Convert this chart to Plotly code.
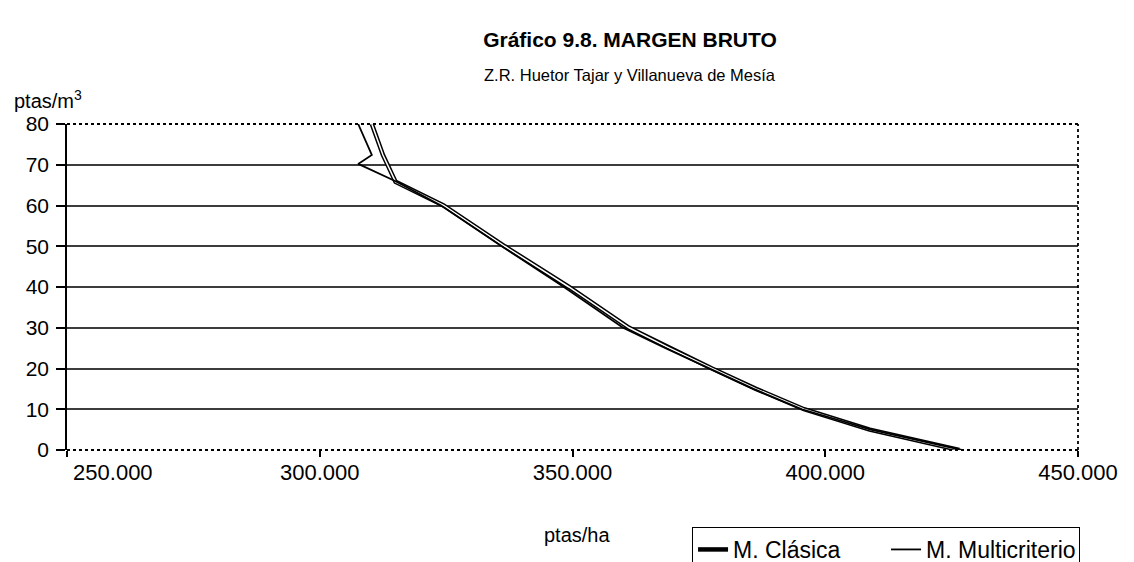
import plotly.graph_objects as go

# Data
clasica_x = [310300, 312500, 315000, 324500, 336600, 349300, 361200, 369200, 377600, 386300, 395800, 408800, 426500]
clasica_y = [80, 72.4, 65.8, 60, 50, 40, 30, 25, 20, 15, 10, 5, 0]

multi_x = [307600, 310300, 307600, 314900, 324000, 336000, 348300, 360000, 368400, 377000, 385800, 395400, 409000, 427000]
multi_y = [80, 72.4, 70.2, 66, 60, 50, 40, 30, 25, 20, 15, 10, 5, 0]

x_tickvals = [250000, 300000, 350000, 400000, 450000]
x_ticktext = ["250.000", "300.000", "350.000", "400.000", "450.000"]
y_tickvals = [0, 10, 20, 30, 40, 50, 60, 70, 80]
grid_vals = [10, 20, 30, 40, 50, 60, 70]

FONT = "Liberation Sans, Arial, sans-serif"

# the page body has an 8px margin; the figure is sized to fill the rest
FIG_W, FIG_H = 1126, 554

ticktext = list(x_ticktext)
ticktext[0] = "\u00a0" * 15 + ticktext[0]

fig = go.Figure()
fig.add_trace(go.Scatter(x=clasica_x, y=clasica_y, mode="lines", name="M. Clásica",
                         line=dict(color="black", width=4.5), hoverinfo="skip"))
fig.add_trace(go.Scatter(x=clasica_x, y=clasica_y, mode="lines", showlegend=False,
                         line=dict(color="white", width=1.5), hoverinfo="skip"))
fig.add_trace(go.Scatter(x=multi_x, y=multi_y, mode="lines", name="M. Multicriterio",
                         line=dict(color="black", width=1.8), hoverinfo="skip"))
# invisible trace to anchor the gridline axis
fig.add_trace(go.Scatter(x=multi_x, y=multi_y, mode="lines", yaxis="y2", showlegend=False,
                         line=dict(color="rgba(0,0,0,0)", width=0), hoverinfo="skip"))

fig.update_layout(
    width=FIG_W, height=FIG_H,
    margin=dict(l=59, r=56, t=116, b=112),
    paper_bgcolor="white", plot_bgcolor="white",
    font=dict(family=FONT, color="black", size=20),
    title=dict(text="<b>Gráfico 9.8. MARGEN BRUTO</b>", x=0.5524, xanchor="center",
               y=0.942, yanchor="middle", yref="container",
               font=dict(size=21, family=FONT, color="black")),
    xaxis=dict(range=[250000, 450000], tickvals=x_tickvals, ticktext=ticktext,
               showgrid=False, zeroline=False, showline=False, automargin=False,
               ticklabeloverflow="allow", ticklabelstandoff=-3,
               ticks="outside", ticklen=6, tickwidth=1.5, tickcolor="black",
               tickfont=dict(size=22, family=FONT)),
    yaxis=dict(range=[0, 80], tickvals=y_tickvals, showgrid=False, zeroline=False,
               showline=True, linecolor="black", linewidth=1.5, automargin=False,
               ticks="outside", ticklen=9, tickwidth=1.5, tickcolor="black",
               ticklabelstandoff=3,
               tickfont=dict(size=21, family=FONT)),
    yaxis2=dict(range=[0, 80], overlaying="y", anchor="x", tickvals=grid_vals,
                showticklabels=False, showgrid=True, gridcolor="#3c3c3c", gridwidth=1.6,
                zeroline=False, showline=False, ticks="", automargin=False),
    legend=dict(orientation="h", xref="container", yref="container",
                x=0.6075, xanchor="left", y=0.0632, yanchor="top",
                bordercolor="black", borderwidth=1, bgcolor="white",
                font=dict(size=23, family=FONT), entrywidth=148,
                tracegroupgap=0),
    showlegend=True,
    shapes=[
        dict(type="line", xref="paper", yref="paper", x0=0, x1=1, y0=1, y1=1,
             line=dict(color="black", width=1.8, dash="dot"), layer="above"),
        dict(type="line", xref="paper", yref="paper", x0=1, x1=1, y0=0, y1=1,
             line=dict(color="black", width=1.8, dash="dot"), layer="above"),
        dict(type="line", xref="paper", yref="paper", x0=0, x1=1, y0=0, y1=0,
             line=dict(color="black", width=1.8, dash="dot"), layer="above"),
    ],
    annotations=[
        dict(text="Z.R. Huetor Tajar y Villanueva de Mesía", xref="paper", yref="paper",
             x=0.557, y=1.15, xanchor="center", yanchor="middle",
             showarrow=False, font=dict(size=16.5, family=FONT)),
        dict(text="ptas/m<sup>3</sup>", xref="paper", yref="paper", x=-0.054, y=1.075,
             xanchor="left", yanchor="middle", showarrow=False,
             font=dict(size=20, family=FONT)),
        dict(text="ptas/ha", xref="paper", yref="paper", x=0.504, y=-0.262,
             xanchor="center", yanchor="middle", showarrow=False,
             font=dict(size=20, family=FONT)),
    ],
)

fig.write_html("out.html")
